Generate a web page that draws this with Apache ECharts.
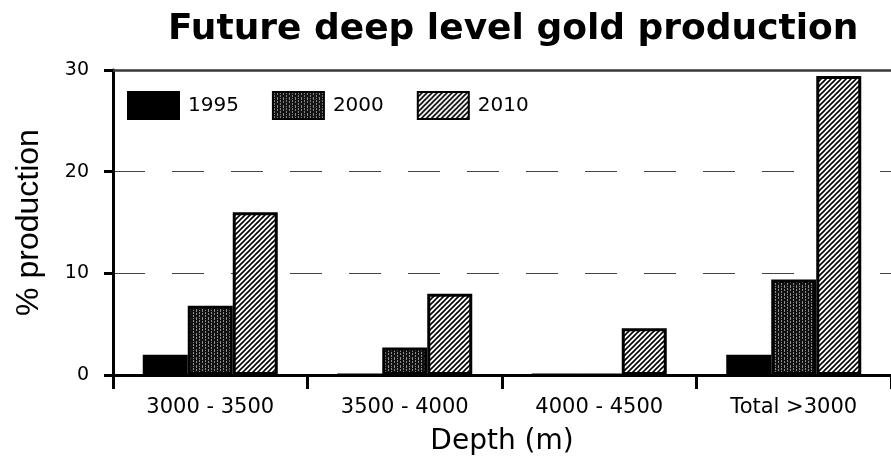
<!DOCTYPE html>
<html>
<head>
<meta charset="utf-8">
<script src="https://cdn.jsdelivr.net/npm/echarts@6/dist/echarts.min.js"></script>
<style>
  html, body { margin: 0; padding: 0; background: #fff; }
  #main { width: 891px; height: 466px; }
</style>
</head>
<body>
<div id="main"></div>
<script>
// data
const categories = ['3000 - 3500', '3500 - 4000', '4000 - 4500', 'Total >3000'];
const years = ['1995', '2000', '2010'];
const prod1995 = [2, 0, 0, 2];
const prod2000 = [6.8, 2.7, 0, 9.4];
const prod2010 = [16, 8, 4.6, 29.4];
const yMin = 0, yMax = 30, yStep = 10;

// fill patterns (scanned look)
function speckle() {
    const c = document.createElement('canvas');
    c.width = 6; c.height = 8;
    const g = c.getContext('2d');
    g.fillStyle = '#111';
    g.fillRect(0, 0, 6, 8);
    g.fillStyle = '#8c8c8c';
    // light flecks stacked in columns -> vertical streaks
    [[1, 0], [1, 1], [1, 3], [1, 4], [1, 6], [4, 1], [4, 2], [4, 5], [4, 6], [4, 7]].forEach(p => g.fillRect(p[0], p[1], 1, 1));
    return c;
}
function hatch() {
    const s = 5;
    const c = document.createElement('canvas');
    c.width = s; c.height = s;
    const g = c.getContext('2d');
    g.fillStyle = '#fff';
    g.fillRect(0, 0, s, s);
    g.strokeStyle = '#000';
    g.lineWidth = 1.6;
    g.beginPath();
    g.moveTo(0, s); g.lineTo(s, 0);
    g.moveTo(-1, 1); g.lineTo(1, -1);
    g.moveTo(s - 1, s + 1); g.lineTo(s + 1, s - 1);
    g.stroke();
    return c;
}

const fills = ['#000', { image: speckle(), repeat: 'repeat' }, { image: hatch(), repeat: 'repeat' }];
const values = [prod1995, prod2000, prod2010];

const chart = echarts.init(document.getElementById('main'));

const option = {
    animation: false,
    backgroundColor: '#fff',
    title: {
        text: 'Future deep level gold production',
        left: 163,
        top: 7,
        textStyle: { fontFamily: 'DejaVu Sans', fontWeight: 'bold', fontSize: 36, color: '#000' }
    },
    legend: {
        data: years,
        left: 122,
        top: 86,
        icon: 'rect',
        itemWidth: 51,
        itemHeight: 27,
        itemGap: 33,
        textStyle: { fontFamily: 'DejaVu Sans', fontSize: 20, color: '#000', padding: [0, 0, 0, 4] }
    },
    grid: { left: 113, right: -11, top: 70, bottom: 91 },
    xAxis: [
        {
            type: 'category',
            data: categories,
            name: 'Depth (m)',
            nameLocation: 'middle',
            nameGap: 53,
            nameTextStyle: { fontFamily: 'DejaVu Sans', fontSize: 28, color: '#000' },
            axisLine: { lineStyle: { color: '#000', width: 3 } },
            axisTick: { show: true, length: 14, lineStyle: { color: '#000', width: 3 } },
            axisLabel: { fontFamily: 'DejaVu Sans', fontSize: 21, color: '#000', margin: 22 }
        },
        {
            // top frame line
            type: 'category',
            data: categories,
            position: 'top',
            axisLine: { lineStyle: { color: '#3a3a3a', width: 2.5 } },
            axisTick: { show: false },
            axisLabel: { show: false }
        }
    ],
    yAxis: {
        type: 'value',
        min: yMin,
        max: yMax,
        interval: yStep,
        name: '% production',
        nameLocation: 'middle',
        nameRotate: 90,
        nameGap: 68,
        nameTextStyle: { fontFamily: 'Liberation Sans', fontSize: 32, color: '#000' },
        axisLine: { show: true, lineStyle: { color: '#000', width: 3 } },
        axisTick: { show: true, length: 9, lineStyle: { color: '#000', width: 3 } },
        axisLabel: { fontFamily: 'DejaVu Sans', fontSize: 19, color: '#000', margin: 24 },
        splitLine: { show: true, lineStyle: { color: '#444', width: 1, type: [32, 27] } }
    },
    series: years.map((y, i) => ({
        name: y,
        type: 'bar',
        barWidth: 45,
        barGap: '0%',
        data: values[i],
        itemStyle: { color: fills[i], borderColor: '#000', borderWidth: 3 }
    }))
};

chart.setOption(option);

window.addEventListener('resize', () => {
    chart.resize();
});
</script>
</body>
</html>
